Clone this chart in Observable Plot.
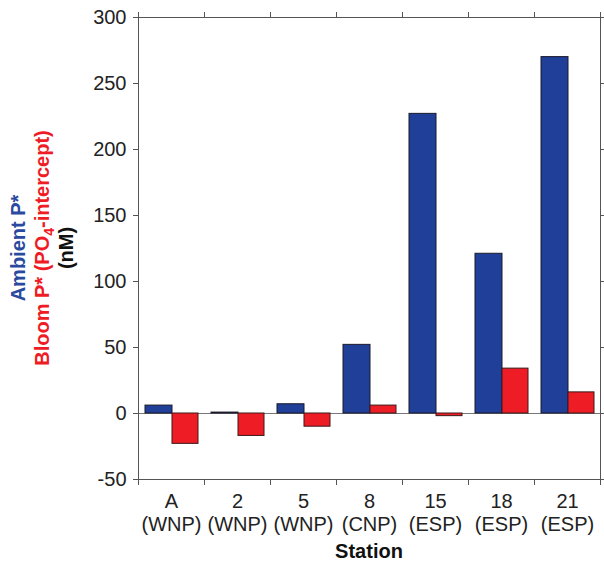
<!DOCTYPE html>
<html>
<head>
<meta charset="utf-8">
<script src="https://cdn.jsdelivr.net/npm/d3@7"></script>
<script src="https://cdn.jsdelivr.net/npm/@observablehq/plot@0.6"></script>
<style>
  html, body { margin: 0; padding: 0; background: #fff; }
  #chart svg { display: block; }
</style>
</head>
<body>
<div id="chart"></div>
<script>
const stations = ["A", "2", "5", "8", "15", "18", "21"];
const regions = ["WNP", "WNP", "WNP", "CNP", "ESP", "ESP", "ESP"];
const ambientP = [6, 0.7, 7, 52, 227, 121, 270];
const bloomP = [-23, -17, -10, 6, -2, 34, 16];
const yTicks = [-50, 0, 50, 100, 150, 200, 250, 300];

const blue = "#1f3f99";
const red = "#ee1c25";
const font = "'Liberation Sans', Arial, sans-serif";

const ambient = stations.map((s, i) => ({station: s, value: ambientP[i]}));
const bloom = stations.map((s, i) => ({station: s, value: bloomP[i]}));

const W = 604, H = 564, mL = 138, mR = 4, mT = 17, mB = 85;

const chart = Plot.plot({
  width: W,
  height: H,
  marginLeft: mL,
  marginRight: mR,
  marginTop: mT,
  marginBottom: mB,
  style: {fontFamily: font, color: "#222", background: "#fff"},
  x: {domain: stations, padding: 0},
  y: {domain: [-50, 300]},
  marks: [
    Plot.ruleY([0], {stroke: "#777", strokeWidth: 1}),
    Plot.barY(ambient, {x: "station", y: "value", fill: blue, stroke: "#1a1a2a", strokeWidth: 1, insetLeft: 7, insetRight: 32}),
    Plot.barY(bloom, {x: "station", y: "value", fill: red, stroke: "#3a1a1a", strokeWidth: 1, insetLeft: 34, insetRight: 6}),
    Plot.frame({stroke: "#555", strokeWidth: 1}),
    Plot.axisY({anchor: "left", ticks: yTicks, tickSize: 5, tickPadding: 7, fontSize: 20, label: null, stroke: "#555",
      tickFormat: (d) => String(d)}),
    Plot.axisY({anchor: "right", ticks: yTicks, tickSize: 5, tickFormat: () => "", label: null, stroke: "#555"}),
    Plot.axisX({anchor: "bottom", tickSize: 0, tickPadding: 12, fontSize: 20, lineHeight: 1.15,
      tickFormat: (d) => d + "\n(" + regions[stations.indexOf(d)] + ")", label: null})
  ]
});

document.getElementById("chart").appendChild(chart);

// Boundary ticks on top and bottom edges
const svg = d3.select(chart);
const xs = chart.scale("x");
const bounds = stations.map(s => xs.apply(s));
bounds.push(xs.apply(stations[stations.length - 1]) + xs.bandwidth);
const g = svg.append("g").attr("stroke", "#555").attr("stroke-width", 1);
bounds.forEach(b => {
  const xp = Math.round(b) + 0.5;
  g.append("line").attr("x1", xp).attr("x2", xp).attr("y1", mT).attr("y2", mT - 5);
  g.append("line").attr("x1", xp).attr("x2", xp).attr("y1", H - mB).attr("y2", H - mB + 6);
});

// X-axis title
svg.append("text")
  .attr("x", (mL + W - mR) / 2)
  .attr("y", 558)
  .attr("text-anchor", "middle")
  .attr("font-family", font)
  .attr("font-size", 20)
  .attr("font-weight", "bold")
  .attr("fill", "#111")
  .text("Station");

// Y-axis title (three rotated lines)
const cy = (mT + H - mB) / 2;
const yt = svg.append("g")
  .attr("transform", `translate(0,${cy}) rotate(-90)`)
  .attr("font-family", font)
  .attr("font-size", 20)
  .attr("font-weight", "bold")
  .attr("text-anchor", "middle");
yt.append("text").attr("x", 0).attr("y", 25).attr("fill", "#2a4aa0").text("Ambient P*");
const t2 = yt.append("text").attr("x", 0).attr("y", 49).attr("fill", red);
t2.append("tspan").text("Bloom P* (PO");
t2.append("tspan").attr("font-size", 14).attr("dy", 5).text("4");
t2.append("tspan").attr("dy", -5).text("-intercept)");
yt.append("text").attr("x", 0).attr("y", 73).attr("fill", "#111").text("(nM)");
</script>
</body>
</html>
